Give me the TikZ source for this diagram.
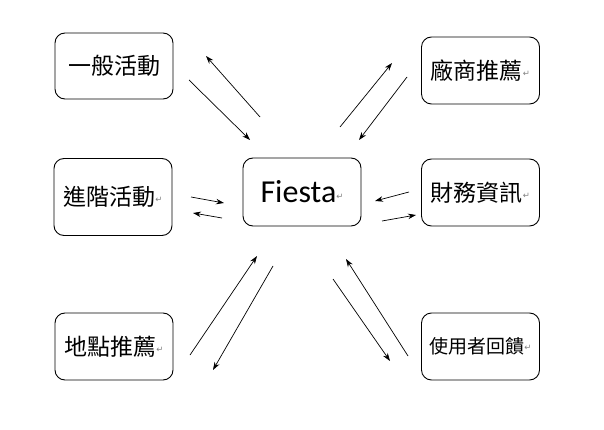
\documentclass[tikz,border=0pt]{standalone}
\usepackage{fontspec}
\newfontfamily\cjk{Noto Sans CJK TC}[Scale=1]
\newfontfamily\lat{Carlito}
\newfontfamily\dv{DejaVu Sans}
\usetikzlibrary{arrows.meta}
\newcommand{\pmark}{\raisebox{3pt}{\dv\fontsize{8.5}{9}\selectfont\color{gray}↵}}
\tikzset{
  box/.style={draw, line width=0.9pt, rounded corners=10pt, inner sep=0pt,
    minimum width=#1, font=\cjk\fontsize{23}{26}\selectfont},
  box/.default=118pt,
  arr/.style={line width=0.7pt, -{Stealth[length=8pt,width=5.5pt]}}
}
\begin{document}
\begin{tikzpicture}[x=1pt,y=-1pt]
\useasboundingbox (0,0) rectangle (604,430);
\node[box, minimum height=66pt] (a) at (114,66) {一般活動};
\node[box, minimum height=67pt] (b) at (480.5,70.5) {廠商推薦\pmark};
\node[box, minimum height=77pt] (c) at (113,197) {進階活動\pmark};
\node[box, minimum height=68pt, font=\lat\fontsize{32}{36}\selectfont] (f) at (302,192) {Fiesta\pmark};
\node[box, minimum height=67pt] (d) at (480.5,192.5) {財務資訊\pmark};
\node[box, minimum height=67pt] (e) at (114,346.5) {地點推薦\pmark};
\node[box, minimum height=67pt, font=\cjk\fontsize{19}{22}\selectfont] (g) at (480.5,346.5) {使用者回饋\pmark};
% top-left
\draw[arr] (189,80) -- (250,140);
\draw[arr] (260,117) -- (206,56);
% top-right
\draw[arr] (340,127) -- (392,63);
\draw[arr] (407,77) -- (359,140);
% middle-left
\draw[arr] (191,197) -- (224,203);
\draw[arr] (222,218) -- (193,213);
% middle-right
\draw[arr] (409,192) -- (375,201);
\draw[arr] (382,221) -- (416,215);
% bottom-left
\draw[arr] (190,355) -- (257,256);
\draw[arr] (273,266) -- (213,370);
% bottom-right
\draw[arr] (333,279) -- (390,361);
\draw[arr] (408,356) -- (346,259);
\end{tikzpicture}
\end{document}
